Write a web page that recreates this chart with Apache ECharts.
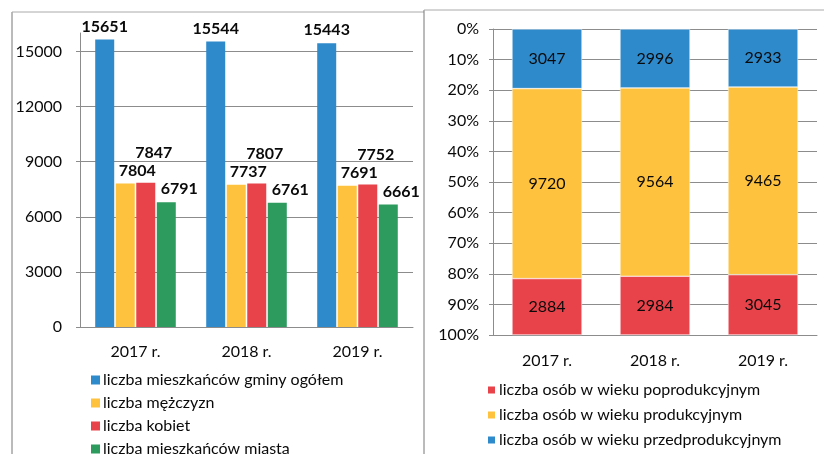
<!DOCTYPE html>
<html>
<head>
<meta charset="utf-8">
<script src="https://cdn.jsdelivr.net/npm/echarts@6/dist/echarts.min.js"></script>
<style>
html, body { margin: 0; padding: 0; background: #fff; }
#chart { width: 824px; height: 454px; }
</style>
</head>
<body>
<div id="chart"></div>
<script>
var years = ['2017 r.', '2018 r.', '2019 r.'];

// lewy wykres - liczba mieszkancow
var ogolem = [15651, 15544, 15443];
var mezczyzni = [7804, 7737, 7691];
var kobiety = [7847, 7807, 7752];
var miasto = [6791, 6761, 6661];

// prawy wykres - struktura wieku
var przedprod = [3047, 2996, 2933];
var prod = [9720, 9564, 9465];
var poprod = [2884, 2984, 3045];

var yTicksLeft = [0, 16000, 3000];

(function(){
	var myChart = echarts.init(document.getElementById('chart'));

	var font = 'Lato';
	var txt = '#0a0a0a';
	var grey = '#8c8c8c';

	var totals = years.map(function (y, i) {
		return przedprod[i] + prod[i] + poprod[i];
	});
	function share(arr) {
		return arr.map(function (v, i) { return v / totals[i] * 100; });
	}
	function rawLabel(arr) {
		return function (p) { return arr[p.dataIndex]; };
	}

	var barLabel = {
		show: true,
		position: 'top',
		distance: 5,
		color: txt,
		fontFamily: font,
		fontWeight: 'bold',
		fontSize: 16
	};

	function leftBar(name, data, color, offset) {
		return {
			name: name,
			type: 'bar',
			xAxisIndex: 0,
			yAxisIndex: 0,
			barWidth: 19,
			barGap: '8%',
			data: data,
			itemStyle: { color: color },
			label: Object.assign({}, barLabel, { offset: offset })
		};
	}

	function rightBar(name, raw, color) {
		return {
			name: name,
			type: 'bar',
			stack: 'wiek',
			xAxisIndex: 1,
			yAxisIndex: 1,
			barWidth: 70,
			data: share(raw),
			itemStyle: { color: color, borderColor: '#fff', borderWidth: 0.5 },
			label: {
				show: true,
				position: 'inside',
				color: txt,
				fontFamily: font,
				fontSize: 16,
				formatter: rawLabel(raw)
			}
		};
	}

	var axisLabelStyle = { color: txt, fontFamily: font, fontSize: 16 };
	var legendText = { color: txt, fontFamily: font, fontSize: 16, padding: [0, 0, 0, -2] };

	option = {
		animation: false,
		backgroundColor: '#fff',
		textStyle: { fontFamily: font },
		graphic: [
			{ type: 'line', shape: { x1: 12, y1: 12, x2: 12, y2: 454 }, style: { stroke: '#777', lineWidth: 1 } },
			{ type: 'line', shape: { x1: 12, y1: 12, x2: 424, y2: 12 }, style: { stroke: '#aaa', lineWidth: 1 } },
			{ type: 'line', shape: { x1: 424, y1: 10, x2: 424, y2: 454 }, style: { stroke: '#777', lineWidth: 1 } },
			{ type: 'line', shape: { x1: 424, y1: 10, x2: 824, y2: 10 }, style: { stroke: '#aaa', lineWidth: 1 } }
		],
		legend: [
			{
				orient: 'vertical',
				left: 86,
				top: 367,
				width: 320,
				height: 140,
				itemWidth: 9,
				itemHeight: 9,
				itemGap: 7,
				icon: 'rect',
				textStyle: legendText,
				data: ['liczba mieszkańców gminy ogółem', 'liczba mężczyzn', 'liczba kobiet', 'liczba mieszkańców miasta']
			},
			{
				orient: 'vertical',
				left: 481,
				top: 377,
				width: 330,
				height: 140,
				itemWidth: 9,
				itemHeight: 9,
				itemGap: 9,
				icon: 'rect',
				textStyle: legendText,
				data: ['liczba osób w wieku poprodukcyjnym', 'liczba osób w wieku produkcyjnym', 'liczba osób w wieku przedprodukcyjnym']
			}
		],
		grid: [
			{ left: 80, right: 411, top: 33, bottom: 127 },
			{ left: 493, right: 7, top: 29, bottom: 119 }
		],
		xAxis: [
			{
				gridIndex: 0,
				type: 'category',
				data: years,
				axisLine: { lineStyle: { color: grey } },
				axisTick: { length: 5, lineStyle: { color: grey } },
				axisLabel: Object.assign({ margin: 17 }, axisLabelStyle)
			},
			{
				gridIndex: 1,
				type: 'category',
				data: years,
				axisLine: { onZero: false, lineStyle: { color: grey } },
				axisTick: { length: 5, lineStyle: { color: grey } },
				axisLabel: Object.assign({ margin: 18 }, axisLabelStyle)
			}
		],
		yAxis: [
			{
				gridIndex: 0,
				type: 'value',
				min: yTicksLeft[0],
				max: yTicksLeft[1],
				interval: yTicksLeft[2],
				axisLine: { show: true, lineStyle: { color: grey } },
				axisTick: { show: true, length: 4, lineStyle: { color: grey } },
				axisLabel: Object.assign({
					margin: 18,
					showMaxLabel: false,
					formatter: function (v) { return String(v); }
				}, axisLabelStyle),
				splitLine: { showMaxLine: false, lineStyle: { color: grey } }
			},
			{
				gridIndex: 1,
				type: 'value',
				inverse: true,
				min: 0,
				max: 100,
				interval: 10,
				axisLine: { show: true, lineStyle: { color: grey } },
				axisTick: { show: true, length: 4, lineStyle: { color: grey } },
				axisLabel: Object.assign({ margin: 14, formatter: '{value}%' }, axisLabelStyle),
				splitLine: { lineStyle: { color: grey } }
			}
		],
		series: [
			leftBar('liczba mieszkańców gminy ogółem', ogolem, '#2E8ACB', [0, 0]),
			leftBar('liczba mężczyzn', mezczyzni, '#FEC23E', [12, 0]),
			leftBar('liczba kobiet', kobiety, '#E8434B', [8, -17]),
			leftBar('liczba mieszkańców miasta', miasto, '#2D9B5E', [13, 0]),
			rightBar('liczba osób w wieku przedprodukcyjnym', przedprod, '#2E8ACB'),
			rightBar('liczba osób w wieku produkcyjnym', prod, '#FEC23E'),
			rightBar('liczba osób w wieku poprodukcyjnym', poprod, '#E8434B')
		]
	};

	myChart.setOption(option);
})();
</script>
</body>
</html>
